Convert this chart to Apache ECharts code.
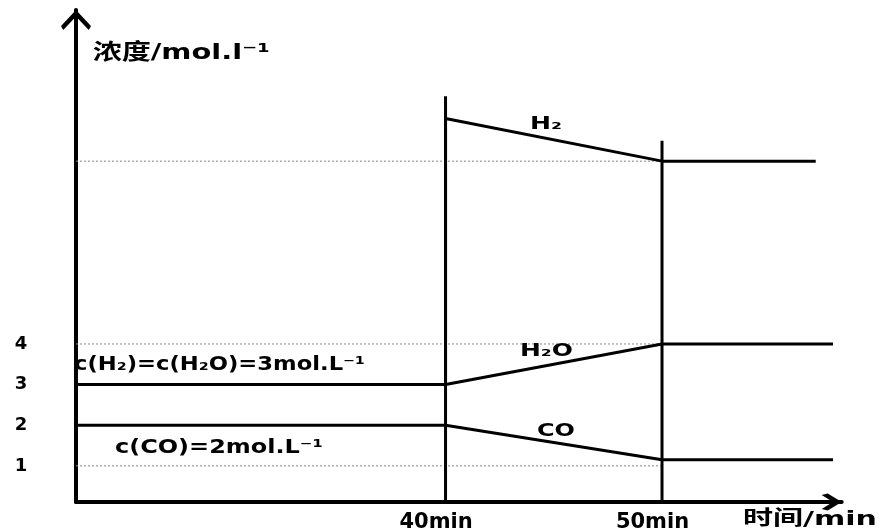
<!DOCTYPE html>
<html><head><meta charset="utf-8">
<script src="https://cdn.jsdelivr.net/npm/echarts@6/dist/echarts.min.js"></script>
<style>html,body{margin:0;padding:0;background:#fff}#c{width:885px;height:531px}</style>
</head><body><div id="c"></div>
<script>
// ---- data ----
const h2Times   = [22.93, 40, 40, 50, 57.1];
const h2Values  = [3, 3, 9.55, 8.5, 8.5];
const h2oTimes  = [22.93, 40, 50, 57.9];
const h2oValues = [3, 3, 4, 4];
const coTimes   = [22.93, 40, 50, 57.9];
const coValues  = [2, 2, 1.15, 1.15];
const markerTimes = [40, 50];
const markerTops  = [10.1, 9.0];
const guideLevels = [8.5, 4, 1];
const guideTimes  = [22.93, 50];
const yTickLabels = [1, 2, 3, 4];
const xTickLabels = [40, 50];
const annotationTexts = ['浓度/mol.l⁻¹', 'c(H₂)=c(H₂O)=3mol.L⁻¹', 'c(CO)=2mol.L⁻¹', 'H₂', 'H₂O', 'CO', '时间/min'];

// ---- layout (pixels) ----
const X_MIN = 22.93, X_MAX = 58.3, Y_MIN = 0.11, Y_MAX = 12.22;
const FONT = "'DejaVu Sans', 'Noto Sans CJK SC', sans-serif";
// [left, right, centerY, fontSize]
const annotationBoxes = [
  [93, 270, 53, 22],
  [74, 365, 365, 19],
  [115, 323, 448, 19],
  [530, 562, 125, 17],
  [520, 573, 352, 17],
  [537, 575, 432, 17],
  [743, 877, 520, 20]
];

const mctx = document.createElement('canvas').getContext('2d');
function fitScale(text, size, width) {
  mctx.font = 'bold ' + size + 'px ' + FONT;
  return width / mctx.measureText(text).width;
}

const zip = (a, b) => a.map((t, i) => [t, b[i]]);
const solid = { color: '#000', width: 3 };

const series = [];
guideLevels.forEach(lv => series.push({
  type: 'line', data: guideTimes.map(t => [t, lv]), showSymbol: false, z: 1,
  lineStyle: { color: '#888', width: 1, type: [2, 2] }, silent: true
}));
markerTimes.forEach((t, i) => series.push({
  type: 'line', data: [[t, Y_MIN], [t, markerTops[i]]], showSymbol: false, z: 3,
  lineStyle: solid, silent: true
}));
[[h2Times, h2Values], [h2oTimes, h2oValues], [coTimes, coValues]].forEach(([t, v]) => series.push({
  type: 'line', data: zip(t, v), showSymbol: false, z: 3, lineStyle: solid, silent: true
}));

const graphic = annotationTexts.map((txt, i) => {
  const [l, r, cy, fs] = annotationBoxes[i];
  return {
    type: 'text', x: l, y: cy, scaleX: fitScale(txt, fs, r - l), z: 100,
    style: { text: txt, fontSize: fs, fontWeight: 'bold', fontFamily: FONT, fill: '#000',
             textAlign: 'left', textVerticalAlign: 'middle' }
  };
});

const chart = echarts.init(document.getElementById('c'), null, { renderer: 'canvas' });
chart.setOption({
  animation: false,
  backgroundColor: '#fff',
  grid: { left: 76, right: 43.3, top: 10, bottom: 29, containLabel: false, outerBoundsMode: 'none' },
  xAxis: {
    type: 'value', min: X_MIN, max: X_MAX,
    splitLine: { show: false }, axisTick: { show: false },
    axisLine: {
      show: true, onZero: false,
      symbol: ['none', 'path://M8.5,0 L17,14 L15.4,20 L8.5,8.7 L1.6,20 L0,14 Z'],
      symbolSize: [17, 20], symbolOffset: [0, -10],
      lineStyle: { color: '#000', width: 4 }
    },
    axisLabel: {
      customValues: xTickLabels, formatter: v => v + 'min',
      fontSize: 21, fontWeight: 'bold', fontFamily: FONT, color: '#000',
      margin: 10, padding: [0, 19, 0, 0]
    }
  },
  yAxis: {
    type: 'value', min: Y_MIN, max: Y_MAX,
    splitLine: { show: false }, axisTick: { show: false },
    axisLine: {
      show: true, onZero: false,
      symbol: ['none', 'path://M15,0 L30,16 L27.7,20 L15,6.5 L2.3,20 L0,16 Z'],
      symbolSize: [30, 20], symbolOffset: [0, -10],
      lineStyle: { color: '#000', width: 4 }
    },
    axisLabel: {
      customValues: yTickLabels,
      fontSize: 18, fontWeight: 'bold', fontFamily: FONT, color: '#000',
      margin: 55, align: 'center'
    }
  },
  series: series,
  graphic: graphic
});
</script>
</body></html>
